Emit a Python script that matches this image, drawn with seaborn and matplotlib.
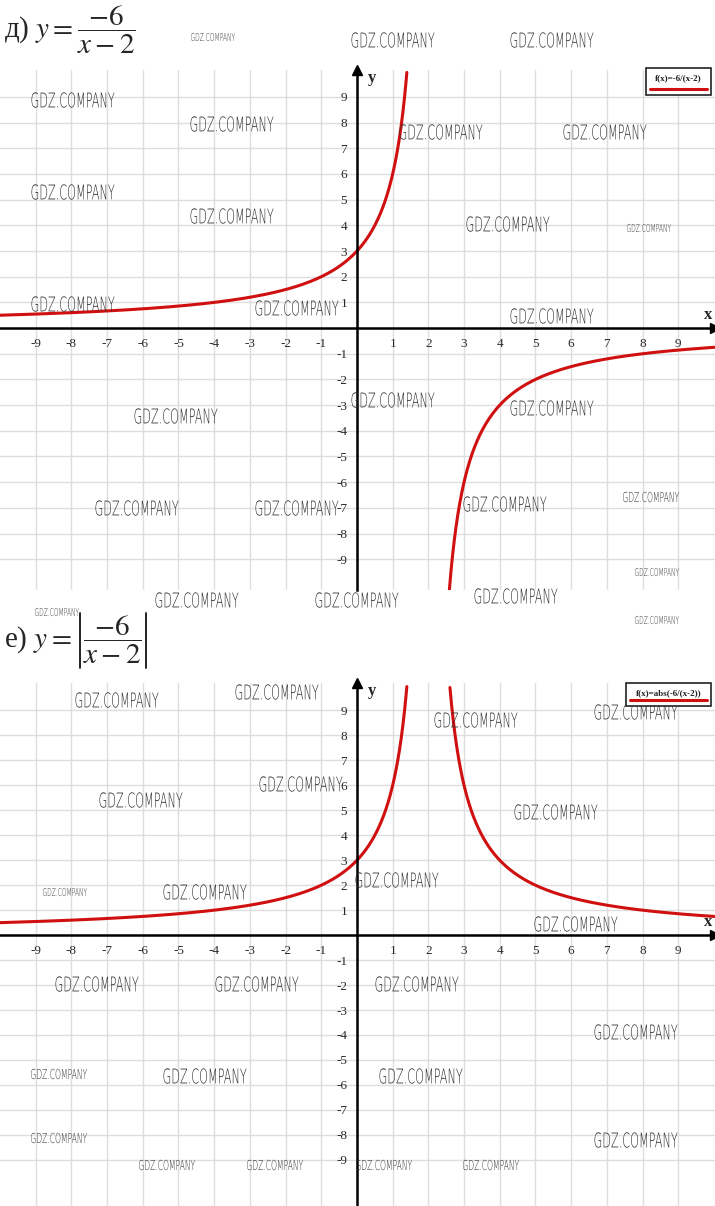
import numpy as np
import pandas as pd
import seaborn as sns
from matplotlib import pyplot as plt
from matplotlib.textpath import TextPath
from matplotlib.patches import PathPatch
from matplotlib.font_manager import FontProperties
from matplotlib.transforms import Affine2D

sns.set_style("white")
plt.rcParams["mathtext.fontset"] = "stix"

# f(x) = K / (x - A)
K = -6
A = 2
ticks = [-9, -8, -7, -6, -5, -4, -3, -2, -1, 1, 2, 3, 4, 5, 6, 7, 8, 9]
titles = [r"д) $y =$", r"е) $y =$"]
fraction = r"$\dfrac{-6}{x-2}$"
legends = ["f(x)=-6/(x-2)", "f(x)=abs(-6/(x-2))"]

# watermarks: centre x, centre y (pixels from top-left), text width in px
marks = [
    (213, 37, 44), (393, 40, 83), (552, 40, 83), (73, 100, 83), (232, 124, 83),
    (441, 132, 83), (605, 132, 83), (73, 192, 83), (232, 216, 83), (508, 224, 83),
    (649, 228, 44), (73, 304, 83), (297, 308, 83), (552, 316, 83), (176, 416, 83),
    (393, 400, 83), (552, 408, 83), (137, 508, 83), (297, 508, 83), (505, 504, 83),
    (651, 497, 56), (657, 572, 44), (197, 600, 83), (357, 600, 83), (516, 596, 83),
    (657, 620, 44), (57, 612, 44),
    (117, 700, 83), (277, 692, 83), (476, 720, 83), (636, 712, 83), (141, 800, 83),
    (301, 784, 83), (556, 812, 83), (65, 892, 44), (205, 892, 83), (397, 880, 83),
    (576, 924, 83), (97, 984, 83), (257, 984, 83), (417, 984, 83), (636, 1032, 83),
    (59, 1074, 56), (205, 1076, 83), (421, 1076, 83), (59, 1138, 56), (636, 1140, 83),
    (167, 1165, 56), (275, 1165, 56), (384, 1165, 56), (491, 1165, 56),
]

W, H = 715, 1206
fig = plt.figure(figsize=(W / 100, H / 100), dpi=100)

panels = [
    dict(rect=[0, 1 - 590 / H, 1, 520 / H], ylim=(-10.2, 10.05), absval=False, title_y=30,
         frac_x=77, leg=(646, 68, 711, 95), ylab=78),
    dict(rect=[0, 0, 1, 1 - 683 / H], ylim=(-10.85, 10.1), absval=True, title_y=640,
         frac_x=83, leg=(626, 683, 711, 706), ylab=691),
]

red = "#d01010"
for i, p in enumerate(panels):
    ax = fig.add_axes(p["rect"])
    ax.set_xlim(-10.0, 10.03)
    ax.set_ylim(*p["ylim"])
    ax.set_xticks(ticks)
    ax.set_yticks(ticks)
    ax.set_xticklabels([str(t) for t in ticks])
    ax.set_yticklabels([str(t) for t in ticks])
    ax.grid(which="major", color="#dedede", lw=1.0)
    ax.set_axisbelow(True)

    for side in ["top", "right"]:
        ax.spines[side].set_visible(False)
    ax.spines["left"].set_position(("data", 0))
    ax.spines["bottom"].set_position(("data", 0))
    for side in ["left", "bottom"]:
        ax.spines[side].set_linewidth(1.8)
        ax.spines[side].set_color("black")
    ax.tick_params(which="major", direction="inout", length=10, width=1.2, colors="black",
                   labelsize=9.5, labelcolor="#2a2a2a", pad=2)
    for lab in ax.get_xticklabels() + ax.get_yticklabels():
        lab.set_family("Liberation Serif")

    # arrows
    ax.plot(1, 0, ">k", ms=7, transform=ax.get_yaxis_transform(), clip_on=False)
    ax.plot(0, 1, "^k", ms=7, transform=ax.get_xaxis_transform(), clip_on=False)
    ax.text(9.85, 0.2, "x", fontsize=12, weight="bold", family="Liberation Serif",
            ha="center", va="bottom")

    # curves
    ylo, yhi = p["ylim"]
    for lo, hi in [(-10.1, A - 0.01), (A + 0.01, 10.1)]:
        xs = np.linspace(lo, hi, 2000)
        ys = K / (xs - A)
        if p["absval"]:
            ys = np.abs(ys)
        keep = (ys <= 9.98) & (ys >= ylo)
        df = pd.DataFrame({"x": xs[keep], "y": ys[keep]})
        sns.lineplot(data=df, x="x", y="y", ax=ax, color=red, lw=2.2, sort=False,
                     estimator=None)
    ax.set_xlabel("")
    ax.set_ylabel("")

    # y label
    fig.text(372 / W, 1 - p["ylab"] / H, "y", fontsize=12, weight="bold",
             family="Liberation Serif", ha="center", va="center")

    # legend box
    x0, y0, x1, y1 = p["leg"]
    fig.patches.append(plt.Rectangle((x0 / W, 1 - y1 / H), (x1 - x0) / W, (y1 - y0) / H,
                                     transform=fig.transFigure, fill=True, fc="white",
                                     ec="#222222", lw=1.2))
    fig.text((x0 + x1) / 2 / W, 1 - (y0 + 10) / H, legends[i], fontsize=6.5,
             family="Liberation Serif", weight="bold", ha="center", va="center",
             color="#222222")
    fig.lines.append(plt.Line2D([(x0 + 4) / W, (x1 - 4) / W], [1 - (y1 - 6) / H] * 2,
                                transform=fig.transFigure, color=red, lw=2.2))

    # title
    ty = p["title_y"]
    fig.text(4 / W, 1 - ty / H, titles[i], fontsize=21,
             family="Liberation Serif", ha="left", va="center")
    fig.text(p["frac_x"] / W, 1 - ty / H, fraction, fontsize=21,
             family="Liberation Serif", ha="left", va="center")
    if p["absval"]:
        for bx in [80, 146]:
            fig.lines.append(plt.Line2D([bx / W] * 2, [1 - (ty - 27) / H, 1 - (ty + 28) / H],
                                        transform=fig.transFigure, color="#111111",
                                        lw=1.3))

# condensed watermark text drawn as scaled paths
wm_path = TextPath((0, 0), "GDZ.COMPANY", size=10,
                   prop=FontProperties(family="DejaVu Sans", weight="light"))
ext = wm_path.get_extents()
for (mx, my, w) in marks:
    sx = w / ext.width
    sy = (w * 0.185) / ext.height
    t = (Affine2D().translate(-ext.x0 - ext.width / 2, -ext.y0 - ext.height / 2)
         .scale(sx, sy).translate(mx, H - my))
    fig.add_artist(PathPatch(wm_path, transform=t, fc="#2e2e2e", ec="none", lw=0))

fig.savefig("out.png", dpi=100)
